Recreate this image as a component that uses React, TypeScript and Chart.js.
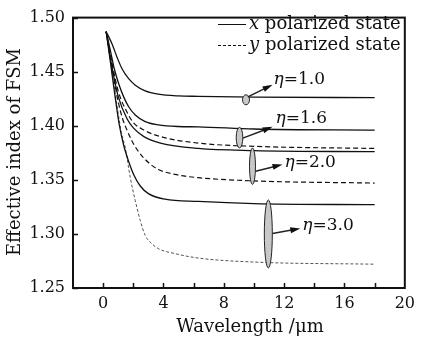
import React, { useEffect, useRef } from "react";
import { Chart, registerables } from "chart.js";

Chart.register(...registerables);

// Wavelength (µm) / effective index pairs
const eta10xX = [0.2, 0.59, 0.92, 1.25, 1.69, 2.13, 2.79, 3.66, 4.98, 6.3, 10, 18];
const eta10xY = [1.487, 1.4756, 1.4634, 1.4527, 1.4435, 1.4375, 1.4322, 1.4292, 1.4276, 1.4272, 1.4265, 1.426];

const eta16xX = [0.2, 0.5, 0.75, 1.03, 1.36, 1.69, 2.13, 2.79, 3.66, 4.98, 6.3, 10, 18];
const eta16xY = [1.487, 1.468, 1.452, 1.4389, 1.4267, 1.4176, 1.41, 1.4038, 1.4008, 1.3993, 1.399, 1.397, 1.396];

const eta16yX = [0.2, 0.6, 1.0, 1.6, 2.0, 2.7, 3.8, 6.3, 10, 18];
const eta16yY = [1.487, 1.457, 1.432, 1.412, 1.403, 1.396, 1.39, 1.384, 1.381, 1.379];

const eta20xX = [0.2, 0.6, 1.0, 1.6, 2.0, 2.7, 3.8, 6.3, 10, 18];
const eta20xY = [1.487, 1.453, 1.427, 1.406, 1.398, 1.39, 1.384, 1.379, 1.377, 1.376];

const eta20yX = [0.2, 0.6, 1.0, 1.3, 1.58, 1.91, 2.35, 3.0, 3.66, 4.76, 6.3, 10, 18];
const eta20yY = [1.487, 1.453, 1.422, 1.406, 1.396, 1.386, 1.376, 1.366, 1.3596, 1.355, 1.352, 1.349, 1.347];

const eta30xX = [0.2, 0.5, 0.8, 1.08, 1.36, 1.69, 2.02, 2.46, 3.0, 4.1, 6.3, 10, 18];
const eta30xY = [1.487, 1.457, 1.426, 1.4, 1.382, 1.367, 1.355, 1.3443, 1.3373, 1.3321, 1.33, 1.328, 1.327];

const eta30yX = [0.2, 0.5, 0.85, 1.21, 1.47, 1.8, 2.13, 2.46, 2.79, 3.12, 3.66, 4.76, 6.3, 10, 18];
const eta30yY = [1.487, 1.458, 1.425, 1.3938, 1.3794, 1.3519, 1.3306, 1.3123, 1.2985, 1.2924, 1.2864, 1.2818, 1.2777, 1.274, 1.272];

const xTickLabels = [0, 4, 8, 12, 16, 20];
const xMinorTicks = [0, 2, 4, 6, 8, 10, 12, 14, 16, 18];
const yTickValues = [1.25, 1.3, 1.35, 1.4, 1.45, 1.5];

const legendLabels = ["x", "y"];
const legendText = " polarized state";
const etaLabels = ["1.0", "1.6", "2.0", "3.0"];
// ellipse centre (data), arrow start (data), arrow end (data), label anchor (data)
const ellipseCx = [9.47, 9.04, 9.9, 10.95];
const ellipseCy = [1.424, 1.389, 1.3626, 1.3];
const arrowSx = [9.59, 9.26, 10.11, 11.23];
const arrowSy = [1.4267, 1.3886, 1.358, 1.3004];
const arrowEx = [11.23, 11.23, 11.89, 13.07];
const arrowEy = [1.438, 1.399, 1.3642, 1.305];
const labelX = [11.3, 11.43, 12.02, 13.2];
const labelY = [1.443, 1.4069, 1.3663, 1.3077];

const FONT = "'DejaVu Serif', serif";

function pts(xs: number[], ys: number[]) {
  return xs.map((x, i) => ({ x, y: ys[i] }));
}

export default function App() {
  const ref = useRef<HTMLCanvasElement | null>(null);
  useEffect(() => {
    if (!ref.current) return;
    const ellipseRx = [3.5, 3.3, 3, 4];
    const ellipseRy = [5, 10.3, 18.3, 34];
    const deco = {
      id: "deco",
      afterDraw(chart: any) {
        const ctx = chart.ctx as CanvasRenderingContext2D;
        const a = chart.chartArea;
        const xs = chart.scales.x;
        const ys = chart.scales.y;
        ctx.save();
        // box
        ctx.strokeStyle = "#111";
        ctx.lineWidth = 2;
        ctx.strokeRect(a.left, a.top, a.right - a.left, a.bottom - a.top);
        // inside ticks
        ctx.lineWidth = 1.5;
        ctx.beginPath();
        xMinorTicks.forEach((v) => {
          const px = Math.round(xs.getPixelForValue(v)) + 0.5;
          ctx.moveTo(px, a.bottom);
          ctx.lineTo(px, a.bottom - 5);
        });
        yTickValues.forEach((v) => {
          const py = Math.round(ys.getPixelForValue(v)) + 0.5;
          ctx.moveTo(a.left, py);
          ctx.lineTo(a.left + 5, py);
        });
        ctx.stroke();
        // legend
        ctx.fillStyle = "#111";
        ctx.textBaseline = "middle";
        ctx.textAlign = "left";
        const ly = [24, 45];
        legendLabels.forEach((lab, i) => {
          ctx.beginPath();
          ctx.lineWidth = 1;
          ctx.setLineDash(i === 0 ? [] : [3, 2]);
          ctx.moveTo(218, ly[i] + 0.5);
          ctx.lineTo(246, ly[i] + 0.5);
          ctx.stroke();
          ctx.setLineDash([]);
          ctx.font = "italic 18px " + FONT;
          ctx.fillText(lab, 249, ly[i]);
          const w = ctx.measureText(lab).width;
          ctx.font = "18px " + FONT;
          ctx.fillText(legendText, 249 + w, ly[i]);
        });
        // annotations
        etaLabels.forEach((lab, i) => {
          const cx = xs.getPixelForValue(ellipseCx[i]);
          const cy = ys.getPixelForValue(ellipseCy[i]);
          ctx.beginPath();
          ctx.ellipse(cx, cy, ellipseRx[i], ellipseRy[i], 0, 0, Math.PI * 2);
          ctx.fillStyle = "#c8c8c8";
          ctx.fill();
          ctx.lineWidth = 1;
          ctx.strokeStyle = "#222";
          ctx.stroke();
          const sx = xs.getPixelForValue(arrowSx[i]);
          const sy = ys.getPixelForValue(arrowSy[i]);
          const ex = xs.getPixelForValue(arrowEx[i]);
          const ey = ys.getPixelForValue(arrowEy[i]);
          const ang = Math.atan2(ey - sy, ex - sx);
          ctx.beginPath();
          ctx.lineWidth = 1.5;
          ctx.moveTo(sx, sy);
          ctx.lineTo(ex - 6 * Math.cos(ang), ey - 6 * Math.sin(ang));
          ctx.stroke();
          ctx.beginPath();
          ctx.fillStyle = "#111";
          ctx.moveTo(ex, ey);
          ctx.lineTo(ex - 10 * Math.cos(ang) + 3 * Math.sin(ang), ey - 10 * Math.sin(ang) - 3 * Math.cos(ang));
          ctx.lineTo(ex - 10 * Math.cos(ang) - 3 * Math.sin(ang), ey - 10 * Math.sin(ang) + 3 * Math.cos(ang));
          ctx.closePath();
          ctx.fill();
          const tx = xs.getPixelForValue(labelX[i]);
          const ty = ys.getPixelForValue(labelY[i]);
          ctx.font = "italic 17px " + FONT;
          ctx.fillText("η", tx, ty);
          const w = ctx.measureText("η").width;
          ctx.font = "17px " + FONT;
          ctx.fillText("=" + lab, tx + w, ty);
        });
        // axis titles
        ctx.fillStyle = "#111";
        ctx.font = "18px " + FONT;
        ctx.textAlign = "center";
        ctx.fillText("Wavelength /\u03bcm", 250, 327);
        ctx.translate(15, 152);
        ctx.rotate(-Math.PI / 2);
        ctx.fillText("Effective index of FSM", 0, 0);
        ctx.restore();
      },
    };
    const line = (data: any, dash: number[], width: number, color: string) => ({
      data,
      borderColor: color,
      borderWidth: width,
      borderDash: dash,
      pointRadius: 0,
      fill: false,
      cubicInterpolationMode: "monotone" as const,
    });
    const chart = new Chart(ref.current, {
      type: "line",
      data: {
        datasets: [
          line(pts(eta10xX, eta10xY), [], 1.3, "#111"),
          line(pts(eta16xX, eta16xY), [], 1.3, "#111"),
          line(pts(eta16yX, eta16yY), [5, 3], 1.2, "#111"),
          line(pts(eta20xX, eta20xY), [], 1.3, "#111"),
          line(pts(eta20yX, eta20yY), [5, 3], 1.2, "#111"),
          line(pts(eta30xX, eta30xY), [], 1.3, "#111"),
          line(pts(eta30yX, eta30yY), [3, 2], 1, "#555"),
        ],
      },
      options: {
        responsive: false,
        animation: false,
        events: [],
        layout: { padding: { top: 15, right: 14, left: 0, bottom: 0 } },
        plugins: { legend: { display: false }, tooltip: { enabled: false } },
        scales: {
          x: {
            type: "linear",
            min: -2,
            max: 20,
            grid: { display: false, drawTicks: false },
            border: { display: false },
            afterFit: (s: any) => {
              s.height = 52;
            },
            afterBuildTicks: (s: any) => {
              s.ticks = xTickLabels.map((v) => ({ value: v }));
            },
            ticks: {
              padding: 6,
              color: "#111",
              font: { family: FONT, size: 16 },
              maxRotation: 0,
              callback: (v: any) => String(v),
            },
          },
          y: {
            type: "linear",
            min: 1.25,
            max: 1.5,
            grid: { display: false, drawTicks: false },
            border: { display: false },
            afterFit: (s: any) => {
              s.width = 73;
            },
            afterBuildTicks: (s: any) => {
              s.ticks = yTickValues.map((v) => ({ value: v }));
            },
            ticks: {
              padding: 8,
              color: "#111",
              font: { family: FONT, size: 16 },
              callback: (v: any) => Number(v).toFixed(2),
            },
          },
        },
      },
      plugins: [deco],
    });
    return () => chart.destroy();
  }, []);
  return (
    <div style={{ position: "fixed", left: 0, top: 0, width: 421, height: 340, background: "#fff" }}>
      <canvas ref={ref} width={421} height={340} style={{ width: 421, height: 340 }} />
    </div>
  );
}
